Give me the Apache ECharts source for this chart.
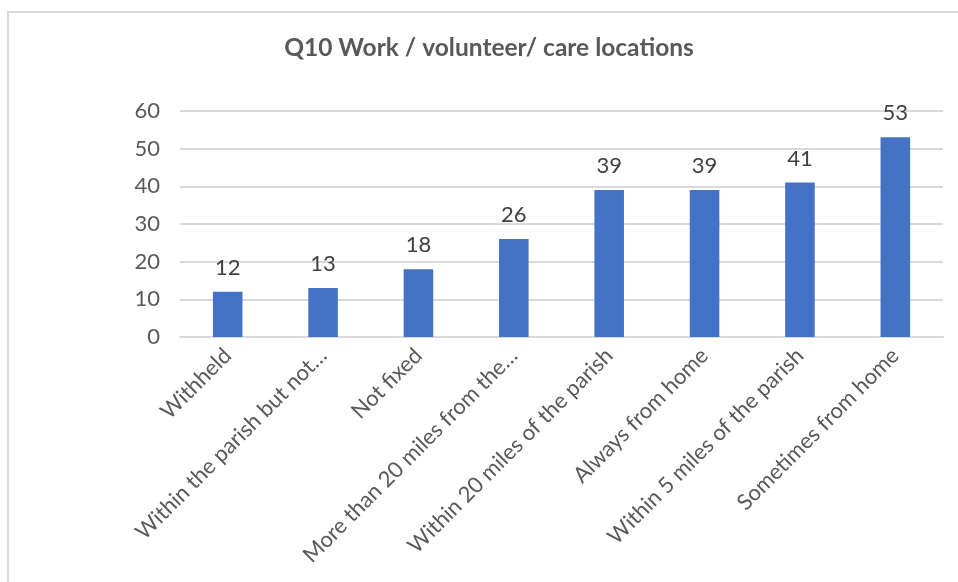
<!DOCTYPE html>
<html><head><meta charset="utf-8">
<script src="https://cdn.jsdelivr.net/npm/echarts@6/dist/echarts.min.js"></script>
<style>html,body{margin:0;padding:0;background:#fff;}#c{width:958px;height:582px;}</style>
</head><body><div id="c"></div>
<script>
const categories = ["Withheld","Within the parish but not\u2026","Not fixed","More than 20 miles from the\u2026","Within 20 miles of the parish","Always from home","Within 5 miles of the parish","Sometimes from home"];
const values = [12,13,18,26,39,39,41,53];
const yTicks = [0,10,20,30,40,50,60];
const titleText = "Q10 Work / volunteer/ care locations";

const chart = echarts.init(document.getElementById('c'), null, {renderer:'canvas'});
chart.setOption({
  animation:false,
  backgroundColor:'#fff',
  textStyle:{fontFamily:'Lato'},
  graphic:[
    {type:'rect',shape:{x:8,y:12,width:1000,height:700},
      style:{fill:'none',stroke:'#d9d9d9',lineWidth:2},silent:true},
    {type:'text',x:489,y:36,silent:true,
      style:{text:titleText,align:'center',verticalAlign:'top',
        font:'bold 24.5px Lato',fill:'#595959'}}
  ],
  grid:{left:180,right:15,top:111,bottom:245,containLabel:false},
  xAxis:{type:'category',data:categories,
    axisLine:{show:true,lineStyle:{color:'#d9d9d9',width:2}},
    axisTick:{show:false},
    axisLabel:{rotate:45,interval:0,fontSize:22,color:'#595959',margin:15,fontFamily:'Lato'}},
  yAxis:{type:'value',min:0,max:60,interval:10,
    axisLine:{show:false},axisTick:{show:false},
    splitLine:{lineStyle:{color:'#d9d9d9',width:2}},
    axisLabel:{fontSize:22,color:'#595959',margin:20,fontFamily:'Lato',
      formatter:function(v){return yTicks.indexOf(v)>=0?String(v):'';}}},
  series:[{type:'bar',data:values,barWidth:'31%',
    itemStyle:{color:'#4472c4'},
    label:{show:true,position:'top',distance:13,fontSize:22,color:'#404040',fontFamily:'Lato'}}]
});
</script></body></html>
